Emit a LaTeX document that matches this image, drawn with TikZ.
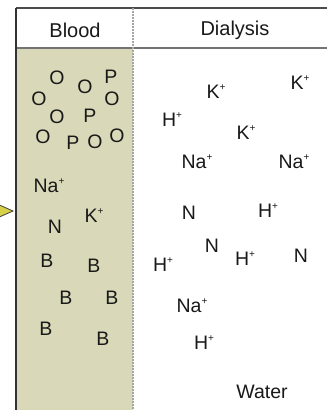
\documentclass[tikz,border=0pt]{standalone}
\usepackage{fontspec}
\setmainfont{Liberation Sans}
\definecolor{beige}{RGB}{217,216,184}
\definecolor{arrowyel}{RGB}{216,208,72}
\newcommand\pl[1]{#1\raisebox{0.42em}{\fontsize{10}{10}\selectfont +}}
\tikzset{
  lbl/.style={inner sep=0pt, font=\fontsize{19.5}{21}\selectfont, text=black!90},
  hdr/.style={inner sep=0pt, font=\fontsize{20}{22}\selectfont, text=black!90},
}
\begin{document}
\begin{tikzpicture}[x=1pt,y=-1pt]
\useasboundingbox (0,0) rectangle (327,410);
\begin{scope}
\clip (0,0) rectangle (327,410);
% fills
\fill[white] (0,0) rectangle (327,410);
\fill[beige] (16,48) rectangle (133,410);
% header
\draw[black!70, line width=2pt] (16,8) -- (327,8);
\draw[black!55, line width=2.8pt] (16,48) -- (327,48);
% divider
\draw[black!35, line width=1.2pt, dash pattern=on 2pt off 1pt] (133,8) -- (133,410);
% left wall
\draw[black!80, line width=1.8pt] (16,8) -- (16,410);
% arrow
\filldraw[fill=arrowyel, draw=black!75, line width=0.8pt] (-12,200) -- (13,211) -- (-12,222) -- cycle;
\end{scope}
% headers
\node[hdr] (hb) at (75,30) {Blood};
\node[hdr] (hd) at (235,30) {Dialysis};
% blood side
\node[lbl] (o1) at (57,78) {O};
\node[lbl] (o2) at (85,87) {O};
\node[lbl] (p1) at (111,77) {P};
\node[lbl] (o3) at (39,99) {O};
\node[lbl] (o4) at (112,99) {O};
\node[lbl] (o5) at (57,117) {O};
\node[lbl] (p2) at (90,116) {P};
\node[lbl] (o6) at (43,137) {O};
\node[lbl] (p3) at (73,143) {P};
\node[lbl] (o7) at (95,142) {O};
\node[lbl] (o8) at (117,136) {O};
\node[lbl] (na1) at (49,186) {\pl{Na}};
\node[lbl] (n1) at (55,227) {N};
\node[lbl] (k1) at (94,216) {\pl{K}};
\node[lbl] (b1) at (47,261) {B};
\node[lbl] (b2) at (94,266) {B};
\node[lbl] (b3) at (66,298) {B};
\node[lbl] (b4) at (112,298) {B};
\node[lbl] (b5) at (46,329) {B};
\node[lbl] (b6) at (103,339) {B};
% dialysis side
\node[lbl] (k2) at (216,92) {\pl{K}};
\node[lbl] (k3) at (300,83) {\pl{K}};
\node[lbl] (h1) at (172,120) {\pl{H}};
\node[lbl] (k4) at (246,133) {\pl{K}};
\node[lbl] (na2) at (197,162) {\pl{Na}};
\node[lbl] (na3) at (294,162) {\pl{Na}};
\node[lbl] (n2) at (189,213) {N};
\node[lbl] (h2) at (268,211) {\pl{H}};
\node[lbl] (n3) at (212,246) {N};
\node[lbl] (h3) at (163,265) {\pl{H}};
\node[lbl] (h4) at (245,259) {\pl{H}};
\node[lbl] (n4) at (301,256) {N};
\node[lbl] (na4) at (192,306) {\pl{Na}};
\node[lbl] (h5) at (204,343) {\pl{H}};
\node[lbl] (w) at (262,392) {Water};
\end{tikzpicture}
\end{document}
